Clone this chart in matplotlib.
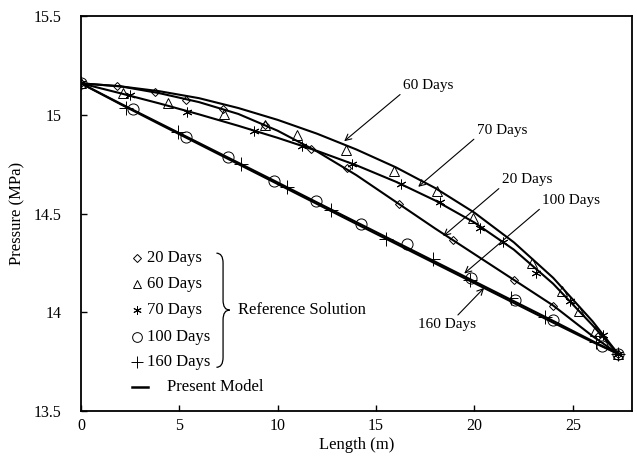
import numpy as np
import matplotlib
matplotlib.use('Agg')
import matplotlib.pyplot as plt
from matplotlib.path import Path
from matplotlib.patches import PathPatch
from matplotlib.lines import Line2D
from matplotlib.ticker import FuncFormatter

plt.rcParams['font.family'] = ['Liberation Serif', 'DejaVu Serif']

# Reference solution (markers)
x20 = [0, 1.84, 3.76, 5.34, 7.23, 9.35, 11.7, 13.5, 16.17, 18.92, 22.02, 24.01, 26.3, 27.3]
p20 = [15.16, 15.146, 15.114, 15.078, 15.028, 14.95, 14.83, 14.729, 14.548, 14.366, 14.163, 14.032, 13.88, 13.79]

x60 = [0, 2.15, 4.44, 7.28, 9.35, 11.0, 13.45, 15.92, 18.12, 19.93, 22.93, 24.43, 25.3, 26.12, 27.3]
p60 = [15.16, 15.11, 15.06, 15.004, 14.95, 14.90, 14.82, 14.715, 14.614, 14.48, 14.248, 14.11, 14.006, 13.907, 13.79]

x70 = [0, 2.49, 5.37, 8.81, 11.23, 13.8, 16.26, 18.24, 20.27, 21.46, 23.15, 24.83, 26.54, 27.3]
p70 = [15.16, 15.10, 15.015, 14.92, 14.845, 14.754, 14.648, 14.56, 14.425, 14.357, 14.2, 14.058, 13.885, 13.79]

x100 = [0, 2.63, 5.34, 7.49, 9.82, 11.96, 14.23, 16.55, 19.82, 22.05, 24.0, 26.46, 27.3]
p100 = [15.16, 15.028, 14.889, 14.785, 14.665, 14.562, 14.45, 14.344, 14.175, 14.062, 13.964, 13.832, 13.79]

x160 = [0, 2.29, 4.95, 8.13, 10.45, 12.72, 15.5, 17.88, 19.77, 21.88, 23.6, 26.2, 27.3]
p160 = [15.16, 15.036, 14.914, 14.75, 14.636, 14.518, 14.374, 14.27, 14.163, 14.071, 13.975, 13.85, 13.79]

# Present model (lines)
xm = [0, 2, 4, 6, 8, 10, 12, 14, 16, 18, 20, 22, 24, 26, 27.3]
m20 = [15.16, 15.145, 15.11, 15.065, 15.005, 14.92, 14.815, 14.695, 14.56, 14.425, 14.295, 14.165, 14.035, 13.88, 13.79]
m60 = [15.16, 15.145, 15.12, 15.085, 15.035, 14.975, 14.905, 14.825, 14.735, 14.63, 14.505, 14.355, 14.175, 13.955, 13.79]
m70 = [15.16, 15.11, 15.058, 15.003, 14.945, 14.884, 14.818, 14.745, 14.662, 14.567, 14.455, 14.318, 14.145, 13.935, 13.79]
m100 = [15.16, 15.058, 14.958, 14.858, 14.758, 14.658, 14.557, 14.457, 14.357, 14.257, 14.157, 14.057, 13.957, 13.855, 13.79]
m160 = [15.16, 15.055, 14.953, 14.852, 14.751, 14.650, 14.549, 14.448, 14.348, 14.248, 14.148, 14.048, 13.948, 13.850, 13.79]

fig = plt.figure(figsize=(6.37, 4.63), dpi=100)
ax = fig.add_axes([0.127, 0.112, 0.865, 0.853])

for m in [m20, m60, m70, m100, m160]:
    ax.plot(xm, m, color='black', linewidth=1.5)

mk = dict(color='black', linestyle='none', markerfacecolor='none', markeredgewidth=0.7)
ax.plot(x20, p20, marker='D', markersize=4.5, **mk)
ax.plot(x60, p60, marker='^', markersize=7, **mk)
ax.plot(x70, p70, marker=(6, 2, 0), markersize=7, **mk)
ax.plot(x100, p100, marker='o', markersize=8, **mk)
ax.plot(x160, p160, marker='+', markersize=10, **mk)

ax.set_xlim(0, 28)
ax.set_ylim(13.5, 15.5)
ax.set_xticks([0, 5, 10, 15, 20, 25])
ax.set_yticks([13.5, 14, 14.5, 15, 15.5])
ax.yaxis.set_major_formatter(FuncFormatter(lambda v, p: '%g' % v))
ax.tick_params(direction='in', length=4, width=1, labelsize=11.5)
ax.tick_params(axis='y', pad=14)
ax.tick_params(axis='x', pad=5)
for s in ax.spines.values():
    s.set_linewidth(1.3)
ax.set_xlabel('Length (m)', fontsize=12, labelpad=2)
ax.set_ylabel('Pressure (MPa)', fontsize=12, labelpad=6)

# arrow labels
arr = dict(arrowstyle='->', color='black', lw=0.8, shrinkA=0, shrinkB=0, relpos=(0, 0))
fs = 11
ax.annotate('60 Days', xy=(13.38, 14.867), xytext=(16.36, 15.115), ha='left', va='bottom', fontsize=fs, arrowprops=arr)
ax.annotate('70 Days', xy=(17.14, 14.636), xytext=(20.11, 14.889), ha='left', va='bottom', fontsize=fs, arrowprops=arr)
ax.annotate('20 Days', xy=(18.41, 14.386), xytext=(21.38, 14.639), ha='left', va='bottom', fontsize=fs, arrowprops=arr)
ax.annotate('100 Days', xy=(19.48, 14.197), xytext=(23.44, 14.534), ha='left', va='bottom', fontsize=fs, arrowprops=arr)
arr160 = dict(arr, relpos=(0.65, 1.0))
ax.annotate('160 Days', xy=(20.49, 14.124), xytext=(18.58, 13.94), ha='center', va='center', fontsize=fs, arrowprops=arr160)

# manual legend
rows = [0.387, 0.323, 0.256, 0.188, 0.125]
labels = ['20 Days', '60 Days', '70 Days', '100 Days', '160 Days']
markers = [('D', 4), ('^', 6), ((6, 2, 0), 6), ('o', 7), ('+', 8)]
for r, lab, (m, s) in zip(rows, labels, markers):
    ax.add_line(Line2D([0.102], [r], transform=ax.transAxes, marker=m, markersize=s,
                       color='black', markerfacecolor='none', markeredgewidth=0.7, linestyle='none'))
    ax.text(0.120, r, lab, transform=ax.transAxes, ha='left', va='center', fontsize=12)
ax.add_line(Line2D([0.092, 0.122], [0.062, 0.062], transform=ax.transAxes, color='black', lw=1.8))
ax.text(0.156, 0.062, 'Present Model', transform=ax.transAxes, ha='left', va='center', fontsize=12)

# brace
x0, xb, xp = 0.246, 0.258, 0.270
yt, yb, ym = 0.400, 0.111, 0.256
d = 0.025
verts = [(x0, yt), (xb, yt), (xb, yt - d),
         (xb, ym + d),
         (xb, ym), (xp, ym),
         (xb, ym), (xb, ym - d),
         (xb, yb + d),
         (xb, yb), (x0, yb)]
codes = [Path.MOVETO, Path.CURVE3, Path.CURVE3,
         Path.LINETO,
         Path.CURVE3, Path.CURVE3,
         Path.CURVE3, Path.CURVE3,
         Path.LINETO,
         Path.CURVE3, Path.CURVE3]
ax.add_patch(PathPatch(Path(verts, codes), transform=ax.transAxes, fill=False, lw=0.9, color='black'))
ax.text(0.285, 0.256, 'Reference Solution', transform=ax.transAxes, ha='left', va='center', fontsize=12)

fig.savefig('out.png', dpi=100)
